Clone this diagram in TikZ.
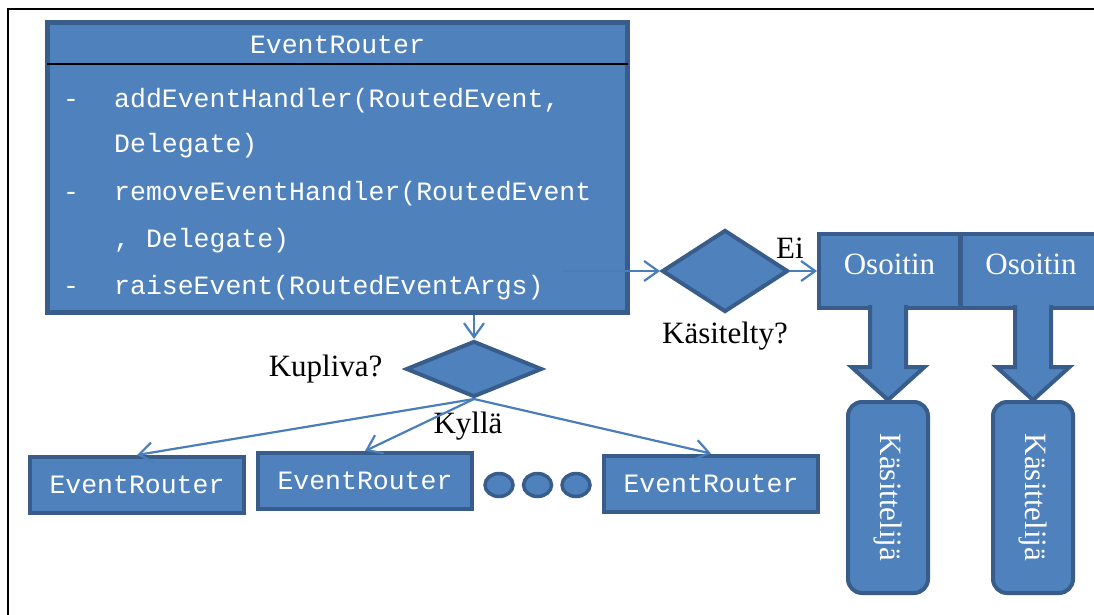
\documentclass[tikz,border=0pt]{standalone}
\usepackage{fontspec}
\setmainfont{Liberation Serif}
\setmonofont{Liberation Mono}
\usepackage{tikz}
\usetikzlibrary{
    calc,
    arrows.meta,
    positioning,
    shapes.geometric
}

\definecolor{fillblue}{HTML}{4F81BD}
\definecolor{edgeblue}{HTML}{385D8A}
\definecolor{lineblue}{HTML}{4A7EBB}

\tikzset{
    bluebox/.style={draw=edgeblue, fill=fillblue, line width=4pt},
    router/.style={bluebox, minimum width=214pt, minimum height=56pt,
        text=white, font=\fontsize{26.5}{30}\ttfamily},
    choice/.style={bluebox, diamond, inner sep=0pt},
    pointer/.style={bluebox, minimum width=141pt, minimum height=74pt,
        text=white, text depth=14pt, font=\fontsize{31}{34}\selectfont},
    handler/.style={bluebox, rounded corners=14pt, minimum width=80pt, minimum height=191pt},
    lbl/.style={font=\fontsize{31}{34}\selectfont},
    method/.style={anchor=base west, inner sep=0pt, text=white, font=\fontsize{26.5}{30}\ttfamily},
    link/.style={draw=lineblue, line width=2.2pt, >={Straight Barb[length=14pt,width=20pt]}, ->}
}

\begin{document}
\begin{tikzpicture}[x=1pt, y=-1pt]
    \useasboundingbox (0,0) rectangle (1094,614);
    \clip (0,0) rectangle (1094,614);

    % frame (only top and left edge on the page)
    \draw[line width=2pt] (8,700) |- (1200,9);

    % class box
    \node[bluebox, line width=5pt, minimum width=580pt, minimum height=290pt] (er) at (337.5,167.5) {};
    \draw[line width=2.5pt] (47,64) -- (628,64);
    \node[method, anchor=base] at (337.5,53) {EventRouter};
    \foreach \y in {107,200,294}
        \node[method] at (63,\y) {-};
    \node[method] at (114,107) {addEventHandler(RoutedEvent,};
    \node[method] at (114,152) {Delegate)};
    \node[method] at (114,200) {removeEventHandler(RoutedEvent};
    \node[method] at (114,247) {, Delegate)};
    \node[method] at (114,294) {raiseEvent(RoutedEventArgs)};

    % decisions
    \node[choice, minimum width=126pt, minimum height=82pt] (q1) at (725,271) {};
    \node[choice, minimum width=136pt, minimum height=56pt] (q2) at (474,369) {};
    \node[lbl, left=18pt of q2] {Kupliva?};
    \node[lbl, below=4pt of q1] {Käsitelty?};
    \node[lbl] at (468,426) {Kyllä};

    % routers further up the tree
    \node[router] (r1) at (137,485) {EventRouter};
    \node[router] (r2) at (365,481) {EventRouter};
    \node[router] (r3) at (711,483.5) {EventRouter};
    \foreach \x in {499,537.5,576}
        \draw[bluebox, line width=3.5pt] (\x,485) ellipse (14 and 11.5);

    % pointers and handlers
    \node[pointer] (os1) at (889.5,271) {Osoitin};
    \node[pointer] (os2) at (1031,271) {Osoitin};
    \node[handler] (k1) at (888,497.5) {};
    \node[handler] (k2) at (1033,497.5) {};
    \foreach \k in {k1,k2}
        \node[lbl, text=white, rotate=-90] at (\k) {Käsittelijä};
    \foreach \i in {1,2}
        \filldraw[bluebox] ($(k\i.north)+(-18,-95)$) -- ++(0,62) -- ++(-18.5,0)
            -- (k\i.north) -- ++(36.5,-33) -- ++(-18.5,0) -- ++(0,-62);

    % connectors
    \coordinate (src) at (562,271);
    \draw[link] (src) -- (q1);
    \draw[link] (q1) to node[lbl, pos=0, above=8pt] {Ei} (os1);
    \draw[link] (q2 |- er.south) -- (q2);
    \foreach \r in {r1,r2,r3}
        \draw[link] (q2.south) -- (\r.north);
\end{tikzpicture}
\end{document}
